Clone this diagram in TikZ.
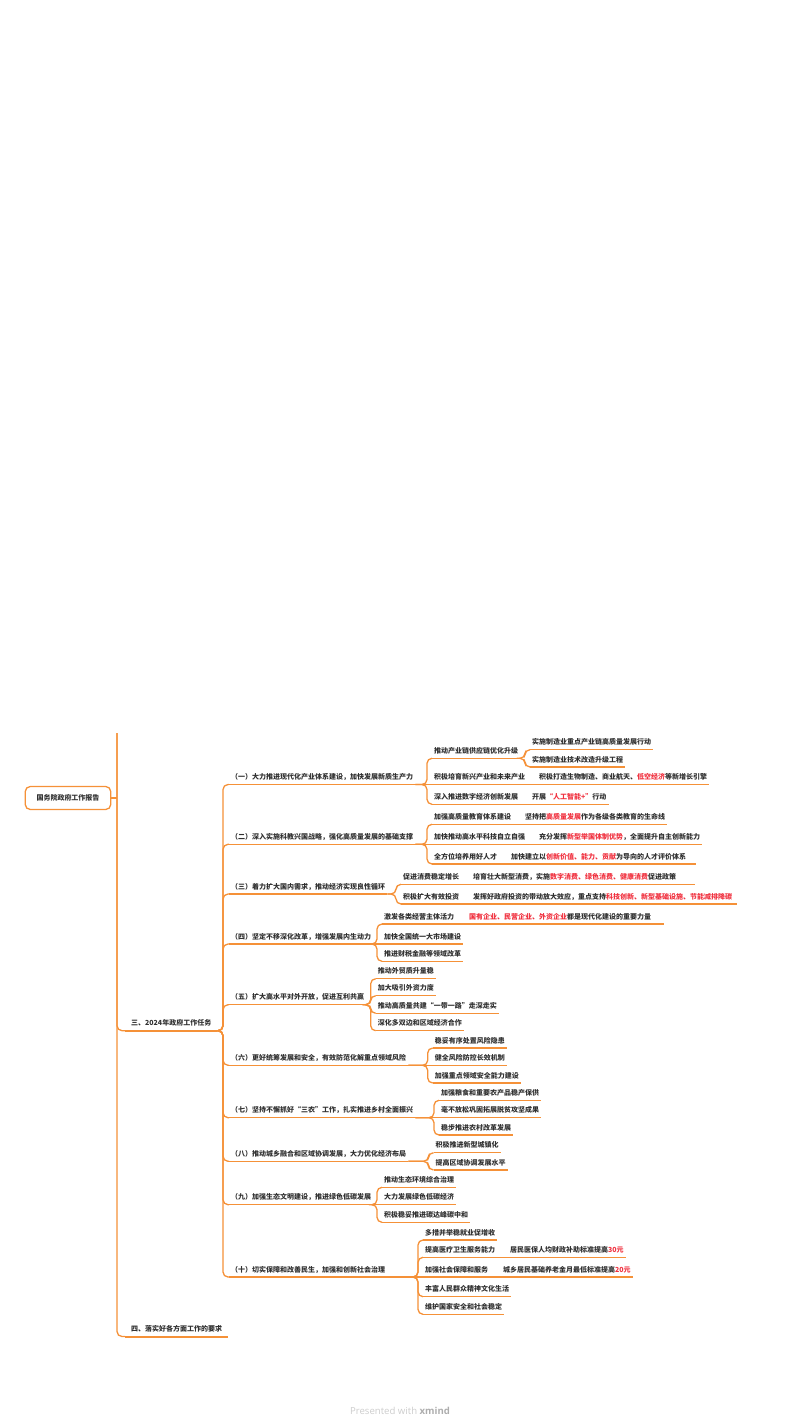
\documentclass[tikz,border=0pt]{standalone}
\usepackage{fontspec}
\setmainfont{Noto Sans CJK SC}
\newfontfamily\brandfont{Open Sans}
\definecolor{branchorange}{HTML}{F59138}
\definecolor{hotred}{HTML}{F0303E}
\definecolor{inkgray}{HTML}{303030}
\newcommand{\hot}[1]{\textcolor{hotred}{#1}}
\tikzset{
    link/.style={draw=branchorange,line width=1.3pt,rounded corners=5pt},
    thicklink/.style={draw=branchorange,line width=2pt},
    topic/.style={anchor=south west,inner xsep=2pt,inner ysep=2.6pt,text height=6pt,text depth=2pt,text=inkgray,
        font=\bfseries\fontsize{7}{8}\selectfont},
    section/.style={topic,inner xsep=6pt},
    rootbox/.style={draw=branchorange,line width=1.3pt,rounded corners=5pt,minimum width=85.5pt,minimum height=23pt,inner sep=0pt,text=inkgray,
        font=\bfseries\fontsize{7}{8}\selectfont},
}
\begin{document}
\begin{tikzpicture}[x=1pt,y=-1pt]
    \useasboundingbox (0,0) rectangle (800,1425);
    \node[rootbox] (root) at (68,798) {国务院政府工作报告};
    \coordinate (trunktop) at (117,733);
    \node[section] (s3) at (125,1030.7) {三、2024年政府工作任务};
    \node[section] (s4) at (125,1336.5) {四、落实好各方面工作的要求};

    \node[topic] (t1) at (229,784.5) {（一）大力推进现代化产业体系建设，加快发展新质生产力};
    \node[topic] (t2) at (229,844.3) {（二）深入实施科教兴国战略，强化高质量发展的基础支撑};
    \node[topic] (t3) at (229,894) {（三）着力扩大国内需求，推动经济实现良性循环};
    \node[topic] (t4) at (229,944) {（四）坚定不移深化改革，增强发展内生动力};
    \node[topic] (t5) at (229,1004.7) {（五）扩大高水平对外开放，促进互利共赢};
    \node[topic] (t6) at (229,1065.3) {（六）更好统筹发展和安全，有效防范化解重点领域风险};
    \node[topic] (t7) at (229,1117.7) {（七）坚持不懈抓好“三农”工作，扎实推进乡村全面振兴};
    \node[topic] (t8) at (229,1161.3) {（八）推动城乡融合和区域协调发展，大力优化经济布局};
    \node[topic] (t9) at (229,1204.7) {（九）加强生态文明建设，推进绿色低碳发展};
    \node[topic] (t10) at (229,1277) {（十）切实保障和改善民生，加强和创新社会治理};

    \node[topic] (t1a) at (432,758.3) {推动产业链供应链优化升级};
    \node[topic] (t1a1) at (530,749.7) {实施制造业重点产业链高质量发展行动};
    \node[topic] (t1a2) at (530,767) {实施制造业技术改造升级工程};
    \node[topic] (t1b) at (432,784.5) {积极培育新兴产业和未来产业};
    \node[topic] (t1b1) at (537,784.5) {积极打造生物制造、商业航天、\hot{低空经济}等新增长引擎};
    \node[topic] (t1c) at (432,804.3) {深入推进数字经济创新发展};
    \node[topic] (t1c1) at (530,804.3) {开展\hot{“人工智能+”}行动};

    \node[topic] (t2a) at (432,824.3) {加强高质量教育体系建设};
    \node[topic] (t2a1) at (523,824.3) {坚持把\hot{高质量发展}作为各级各类教育的生命线};
    \node[topic] (t2b) at (432,844.3) {加快推动高水平科技自立自强};
    \node[topic] (t2b1) at (537,844.3) {充分发挥\hot{新型举国体制优势}，全面提升自主创新能力};
    \node[topic] (t2c) at (432,864) {全方位培养用好人才};
    \node[topic,text width=182.7pt] (t2c1) at (509,864) {加快建立以\hot{创新价值、能力、贡献}为导向的人才评价体系};

    \node[topic] (t3a) at (401,884.3) {促进消费稳定增长};
    \node[topic,text width=219.7pt] (t3a1) at (471,884.3) {培育壮大新型消费，实施\hot{数字消费、绿色消费、健康消费}促进政策};
    \node[topic] (t3b) at (401,904) {积极扩大有效投资};
    \node[topic,text width=261.7pt] (t3b1) at (471,904) {发挥好政府投资的带动放大效应，重点支持\hot{科技创新、新型基础设施、节能减排降碳}};

    \node[topic] (t4a) at (382,924) {激发各类经营主体活力};
    \node[topic,text width=193pt] (t4a1) at (467,924) {\hot{国有企业、民营企业、外资企业}都是现代化建设的重要力量};
    \node[topic] (t4b) at (382,944) {加快全国统一大市场建设};
    \node[topic] (t4c) at (382,961.3) {推进财税金融等领域改革};

    \node[topic] (t5a) at (375.7,978.7) {推动外贸质升量稳};
    \node[topic] (t5b) at (375.7,995.7) {加大吸引外资力度};
    \node[topic] (t5c) at (375.7,1013.3) {推动高质量共建“一带一路”走深走实};
    \node[topic] (t5d) at (375.7,1030.7) {深化多双边和区域经济合作};

    \node[topic] (t6a) at (432.7,1048) {稳妥有序处置风险隐患};
    \node[topic] (t6b) at (432.7,1065.3) {健全风险防控长效机制};
    \node[topic] (t6c) at (432.7,1083) {加强重点领域安全能力建设};

    \node[topic] (t7a) at (439,1100.3) {加强粮食和重要农产品稳产保供};
    \node[topic] (t7b) at (439,1117.7) {毫不放松巩固拓展脱贫攻坚成果};
    \node[topic] (t7c) at (439,1135) {稳步推进农村改革发展};

    \node[topic] (t8a) at (433.5,1152.7) {积极推进新型城镇化};
    \node[topic] (t8b) at (433.5,1170) {提高区域协调发展水平};

    \node[topic] (t9a) at (382,1187.3) {推动生态环境综合治理};
    \node[topic] (t9b) at (382,1204.7) {大力发展绿色低碳经济};
    \node[topic] (t9c) at (382,1222.3) {积极稳妥推进碳达峰碳中和};

    \node[topic] (t10a) at (423,1240) {多措并举稳就业促增收};
    \node[topic] (t10b) at (423,1257.3) {提高医疗卫生服务能力};
    \node[topic] (t10b1) at (508,1257.3) {居民医保人均财政补助标准提高\hot{30元}};
    \node[topic] (t10c) at (423,1277) {加强社会保障和服务};
    \node[topic] (t10c1) at (501,1277) {城乡居民基础养老金月最低标准提高\hot{20元}};
    \node[topic] (t10d) at (423,1296.7) {丰富人民群众精神文化生活};
    \node[topic] (t10e) at (423,1314.3) {维护国家安全和社会稳定};

    \node[font=\brandfont\fontsize{9.6}{12}\selectfont,text=black!20] (brand) at (400,1411) {Presented with \textcolor{black!32}{\textbf{xmind}}};

    \draw[link] (root.east) -- (root.east -| trunktop);
    \draw[link] (trunktop) |- (s3.south west);
    \draw[link] (trunktop) |- (s4.south west);
    \foreach \kid in {s3,s4}
        \draw[thicklink] (\kid.south west) -- (\kid.south east);
    \foreach \kid in {t1,t2,t3,t4,t5,t6,t7,t8,t9,t10,t1a,t1a1,t1a2,t1b,t1b1,t1c,t1c1,t2a,t2a1,t2b,t2b1,t2c,t2c1,t3a,t3a1,t3b,t3b1,t4a,t4a1,t4b,t4c,t5a,t5b,t5c,t5d,t6a,t6b,t6c,t7a,t7b,t7c,t8a,t8b,t9a,t9b,t9c,t10a,t10b,t10b1,t10c,t10c1,t10d,t10e}
        \draw[link] (\kid.south west) -- (\kid.south east);

    \foreach \kid in {t1,t2,t3,t4,t5,t6,t7,t8,t9,t10}
        \draw[link] (s3.south east) -| ([xshift=-6pt]\kid.south west) -- (\kid.south west);

    \draw[link] (t1.south east) -- (t1b.south west);
    \draw[link] (t2.south east) -- (t2b.south west);
    \foreach \kid in {t1a,t1c}
        \draw[link] (t1.south east) -| ([xshift=-5pt]\kid.south west) -- (\kid.south west);
    \foreach \kid in {t2a,t2c}
        \draw[link] (t2.south east) -| ([xshift=-5pt]\kid.south west) -- (\kid.south west);
    \foreach \kid in {t3a,t3b}
        \draw[link] (t3.south east) -| ([xshift=-5pt]\kid.south west) -- (\kid.south west);
    \draw[link] (t4.south east) -- (t4b.south west);
    \foreach \kid in {t4a,t4c}
        \draw[link] (t4.south east) -| ([xshift=-5pt]\kid.south west) -- (\kid.south west);
    \foreach \kid in {t5a,t5b,t5c,t5d}
        \draw[link] (t5.south east) -| ([xshift=-5pt]\kid.south west) -- (\kid.south west);
    \draw[link] (t6.south east) -- (t6b.south west);
    \foreach \kid in {t6a,t6c}
        \draw[link] (t6.south east) -| ([xshift=-5pt]\kid.south west) -- (\kid.south west);
    \draw[link] (t7.south east) -- (t7b.south west);
    \foreach \kid in {t7a,t7c}
        \draw[link] (t7.south east) -| ([xshift=-5pt]\kid.south west) -- (\kid.south west);
    \foreach \kid in {t8a,t8b}
        \draw[link] (t8.south east) -| ([xshift=-5pt]\kid.south west) -- (\kid.south west);
    \draw[link] (t9.south east) -- (t9b.south west);
    \foreach \kid in {t9a,t9c}
        \draw[link] (t9.south east) -| ([xshift=-5pt]\kid.south west) -- (\kid.south west);
    \draw[link] (t10.south east) -- (t10c.south west);
    \foreach \kid in {t10a,t10b,t10d,t10e}
        \draw[link] (t10.south east) -| ([xshift=-5pt]\kid.south west) -- (\kid.south west);

    \foreach \kid in {t1a1,t1a2}
        \draw[link] (t1a.south east) -| ([xshift=-5pt]\kid.south west) -- (\kid.south west);
    \draw[link] (t1b.south east) -- (t1b1.south west);
    \draw[link] (t1c.south east) -- (t1c1.south west);
    \draw[link] (t2a.south east) -- (t2a1.south west);
    \draw[link] (t2b.south east) -- (t2b1.south west);
    \draw[link] (t2c.south east) -- (t2c1.south west);
    \draw[link] (t3a.south east) -- (t3a1.south west);
    \draw[link] (t3b.south east) -- (t3b1.south west);
    \draw[link] (t4a.south east) -- (t4a1.south west);
    \draw[link] (t10b.south east) -- (t10b1.south west);
    \draw[link] (t10c.south east) -- (t10c1.south west);
\end{tikzpicture}
\end{document}
